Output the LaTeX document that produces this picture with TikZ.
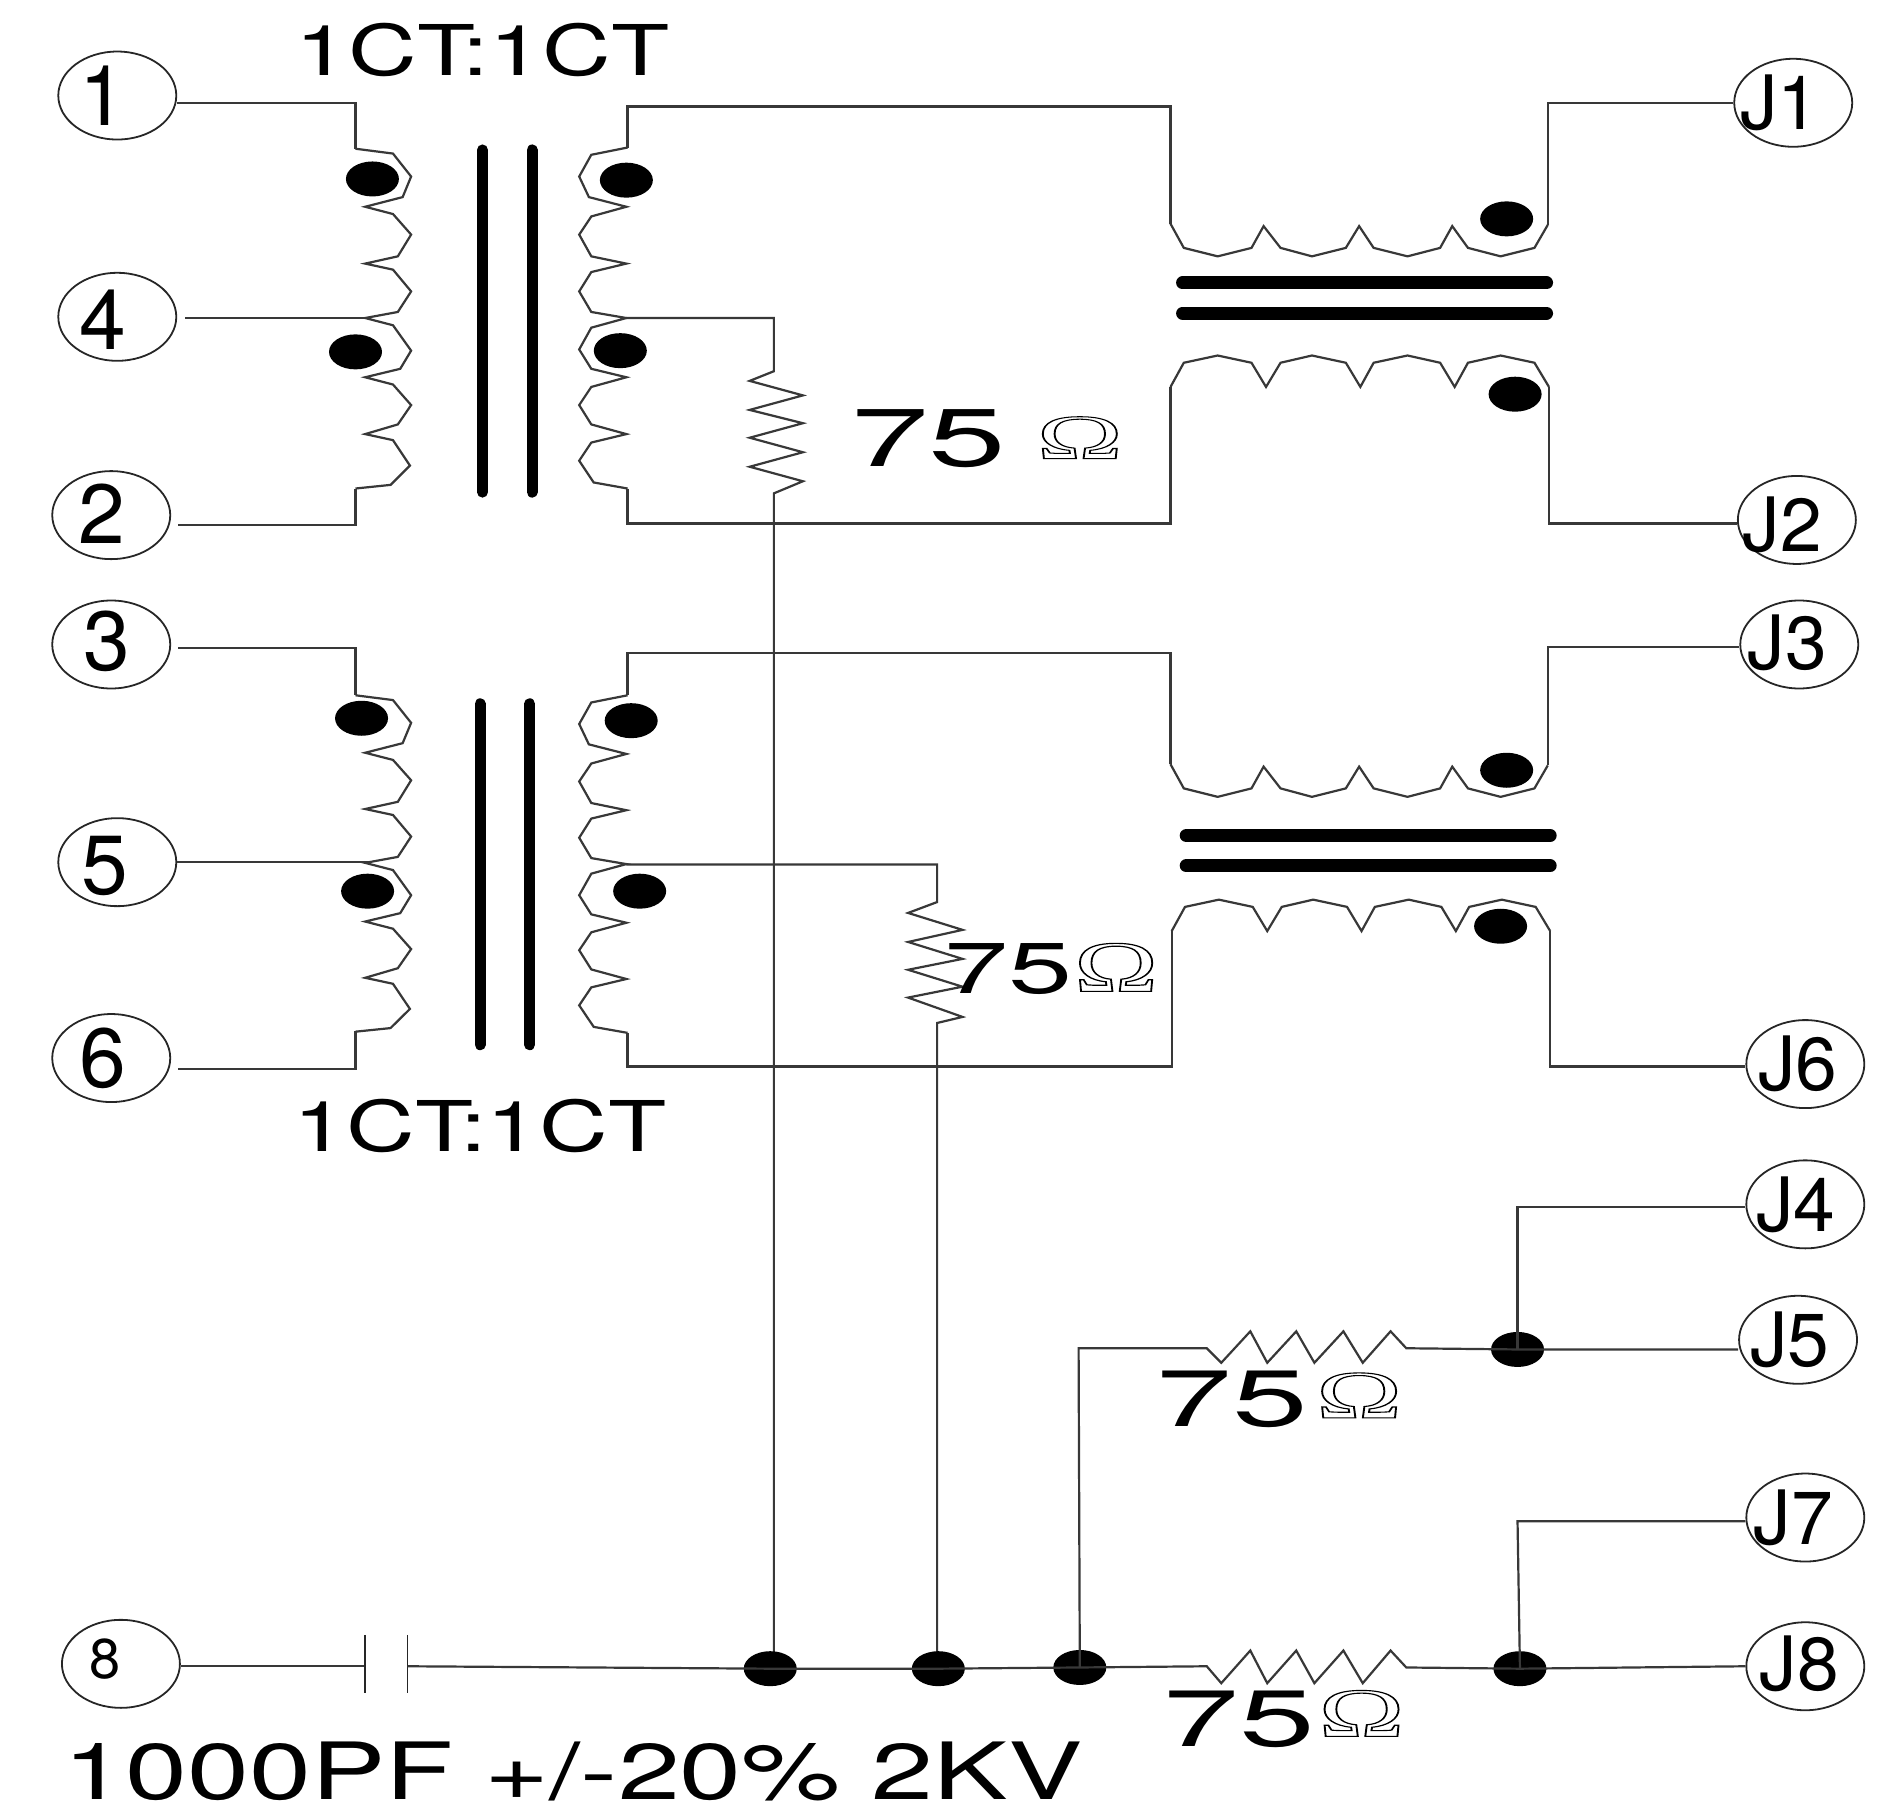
\documentclass[tikz,border=0pt]{standalone}
\usetikzlibrary{shapes.geometric}
\usepackage{fontspec}
\setmainfont{TeX Gyre Heros}
\newfontfamily\ohmface{Liberation Serif}
\newcommand{\wide}[3]{\scalebox{#1}[1]{\fontsize{#2}{#2}\selectfont #3}}
\newcommand{\ohmglyph}[2]{\resizebox{#1}{#2}{\special{pdf:literal 1 Tr 0.65 w 0 0 0 RG}\ohmface\fontsize{40}{40}\selectfont Ω\special{pdf:literal 0 Tr}}}
\tikzset{
  wire/.style={draw=black!78,line width=2.2pt,line join=miter},
  term/.style={draw=black!85,line width=1.8pt,ellipse,minimum width=118pt,minimum height=88pt,inner sep=0pt},
  dotmark/.style={fill=black,ellipse,minimum width=53pt,minimum height=35pt,inner sep=0pt},
  corebar/.style={line width=13pt,line cap=round,black},
  plate/.style={draw=black!85,line width=1.8pt},
  lab/.style={inner sep=0pt,text=black},
  vL/.pic={\draw[wire] (0,0) -- (31,4) -- (46,23) -- (39,40) -- (8,48) -- (31,54) -- (46,71) -- (35,89) -- (8,95) -- (31,100) -- (46,118) -- (35,135) -- (8,140) -- (31,146) -- (46,167) -- (37,182) -- (8,189) -- (31,195) -- (46,212) -- (35,228) -- (8,236) -- (31,241) -- (45,262) -- (29,278) -- (0,281);},
  vR/.pic={\draw[wire] (0,0) -- (-30,6) -- (-40,24) -- (-32,41) -- (-1,49) -- (-30,57) -- (-40,72) -- (-30,90) -- (-1,96) -- (-30,103) -- (-40,119) -- (-30,136) -- (-1,141) -- (-30,149) -- (-40,167) -- (-30,183) -- (-1,190) -- (-30,198) -- (-40,213) -- (-30,229) -- (-1,237) -- (-30,244) -- (-40,259) -- (-28,277) -- (0,282);},
  hT/.pic={\draw[wire] (0,0) -- (11,20) -- (39,27) -- (67,20) -- (77,2) -- (91,20) -- (117,27) -- (145,20) -- (156,2) -- (168,20) -- (196,27) -- (223,20) -- (233,2) -- (246,20) -- (273,27) -- (301,20) -- (312,1);},
  hB/.pic={\draw[wire] (0,0) -- (11,-20) -- (39,-26) -- (67,-20) -- (79,0) -- (91,-20) -- (117,-26) -- (145,-20) -- (157,0) -- (168,-20) -- (196,-26) -- (223,-20) -- (235,0) -- (246,-20) -- (273,-26) -- (301,-20) -- (313,0);},
}
\begin{document}
\begin{tikzpicture}[x=1.2092pt,y=-1.2092pt]
\useasboundingbox (0,0) rectangle (1568,1500);
% terminals
\node[term] (n1) at (97,79) {};
\node[term] (n4) at (97,262) {};
\node[term] (n2) at (92,426) {};
\node[term] (n3) at (92,533) {};
\node[term] (n5) at (97,713) {};
\node[term] (n6) at (92,875) {};
\node[term] (n8) at (100,1376) {};
\node[term] (J1) at (1483,85) {};
\node[term] (J2) at (1486,430) {};
\node[term] (J3) at (1488,533) {};
\node[term] (J6) at (1493,880) {};
\node[term] (J4) at (1493,996) {};
\node[term] (J5) at (1487,1108) {};
\node[term] (J7) at (1493,1255) {};
\node[term] (J8) at (1493,1378) {};
% terminal texts
\foreach \nm/\tx/\xx/\yy in {t1/1/85/79,t4/4/85/264,t2/2/84/425,t3/3/88/530,t5/5/87/716,t6/6/85/875}
  \node[lab] (\nm) at (\xx,\yy) {\fontsize{84}{84}\selectfont\tx};
\node[lab] (t8) at (87,1372) {\fontsize{56}{56}\selectfont 8};
\foreach \nm/\tx/\xx/\yy in {tJ1/J1/1472/85,tJ2/J2/1474/434,tJ3/J3/1478/532,tJ6/J6/1487/880,tJ4/J4/1485/996,tJ5/J5/1480/1108,tJ7/J7/1483/1255,tJ8/J8/1488/1376}
  \node[lab] (\nm) at (\xx,\yy) {\fontsize{75}{75}\selectfont\tx};
% junction coordinates
\coordinate (g1) at (637,1380);
\coordinate (g2) at (776,1380);
\coordinate (g3) at (893,1379);
\coordinate (g4) at (1257,1380);
\coordinate (g5) at (1255,1116);
% transformer 1
\draw[corebar,line width=11pt] (399,124) -- (399,407);
\draw[corebar,line width=11pt] (440,124) -- (440,407);
\pic at (294,123) {vL};
\pic at (519,122) {vR};
\draw[wire] (n1.east |- 294,85) -- (294,85) -- (294,123);
\draw[wire,shorten <=8pt] (n4.east |- 302,263) -- (302,263);
\draw[wire,shorten <=7pt] (n2.east |- 294,434) -- (294,434) -- (294,404);
\draw[wire] (519,122) -- (519,88) -- (968,88) -- (968,185);
\draw[wire] (519,404) -- (519,433) -- (968,433) -- (968,320);
\draw[wire] (518,263) -- (640,263) -- (640,307) -- (620,315) -- (664,327) -- (620,339) -- (664,350) -- (620,362) -- (664,374) -- (620,386) -- (664,398) -- (640,408) -- (640,1380);
% transformer 1 line side
\pic at (968,185) {hT};
\pic at (968,320) {hB};
\draw[wire] (1280,186) -- (1280,85) -- (J1.west);
\draw[wire] (1281,320) -- (1281,433) -- (J2.west |- 1281,433);
\draw[corebar] (978,234) -- (1279,234);
\draw[corebar] (978,259) -- (1279,259);
% transformer 2
\draw[corebar,line width=11pt] (397,582) -- (397,864);
\draw[corebar,line width=11pt] (438,582) -- (438,864);
\pic[yscale=.99] at (294,575) {vL};
\pic[yscale=.99] at (519,575) {vR};
\draw[wire,shorten <=7pt] (n3.east |- 294,536) -- (294,536) -- (294,575);
\draw[wire] (n5.east |- 302,713) -- (304,713);
\draw[wire,shorten <=7pt] (n6.east |- 294,884) -- (294,884) -- (294,853);
\draw[wire] (519,575) -- (519,540) -- (968,540) -- (968,632);
\draw[wire] (519,854) -- (519,882) -- (969,882) -- (969,770);
\draw[wire] (518,715) -- (775,715) -- (775,746) -- (751,755) -- (796,769) -- (751,779) -- (796,793) -- (751,802) -- (796,816) -- (751,825) -- (796,841) -- (775,846) -- (775,1380);
\pic at (968,632) {hT};
\pic at (969,770) {hB};
\draw[wire] (1280,633) -- (1280,535) -- (J3.west |- 1280,535);
\draw[wire] (1282,770) -- (1282,882) -- (J6.west |- 1282,882);
\draw[corebar] (981,691) -- (1282,691);
\draw[corebar] (981,716) -- (1282,716);
% dots
\foreach \xx/\yy [count=\i] in {308/148,294/291,518/149,513/290,1246/181,1253/326,299/594,304/737,522/596,529/737,1246/637,1241/766}
  \node[dotmark] (d\i) at (\xx,\yy) {};
\node[dotmark] (j1) at (g1) {};
\node[dotmark] (j2) at (g2) {};
\node[dotmark] (j3) at (g3) {};
\node[dotmark] (j4) at (g4) {};
\node[dotmark] (j5) at (g5) {};
% bottom rail
\draw[wire] (n8.east |- 302,1378) -- (302,1378);
\draw[plate] (302,1352) -- (302,1400);
\draw[plate] (337,1352) -- (337,1400);
\draw[wire] (337,1378) -- (g1) -- (g2) -- (g3) -- (998,1378) -- (1010,1392) -- (1034,1365) -- (1048,1392) -- (1072,1365) -- (1087,1392) -- (1111,1365) -- (1127,1392) -- (1150,1365) -- (1163,1379) -- (g4) -- (J8.west);
\draw[wire] (g3) -- (892,1115) -- (998,1115) -- (1010,1127) -- (1034,1101) -- (1048,1127) -- (1072,1101) -- (1087,1127) -- (1111,1101) -- (1127,1127) -- (1150,1101) -- (1163,1115) -- (g5) -- (J5.west |- g5);
\draw[wire] (g5) -- (1255,998) -- (J4.west |- 1255,998);
\draw[wire] (g4) -- (1255,1258) -- (J7.west |- 1255,1258);
% values
\node[lab] (r1) at (768,363) {\wide{1.7}{82}{75}};
\node[lab] (o1) at (893,362) {\ohmglyph{86pt}{42pt}};
\node[lab] (r2) at (834,801) {\wide{1.6}{72}{75}};
\node[lab] (o2) at (923,800) {\ohmglyph{84pt}{48pt}};
\node[lab] (r3) at (1019,1157) {\wide{1.7}{80}{75}};
\node[lab] (o3) at (1124,1154) {\ohmglyph{86pt}{45pt}};
\node[lab] (r4) at (1025,1422) {\wide{1.7}{80}{75}};
\node[lab] (o4) at (1126,1417) {\ohmglyph{86pt}{46pt}};
\node[lab] (ct1) at (399,41) {\wide{1.36}{70}{1CT:1CT}};
\node[lab] (ct2) at (397,931) {\wide{1.36}{70}{1CT:1CT}};
\node[lab] (cap) at (474,1465) {\wide{1.41}{79}{1000PF +/-20\% 2KV}};
\end{tikzpicture}
\end{document}
